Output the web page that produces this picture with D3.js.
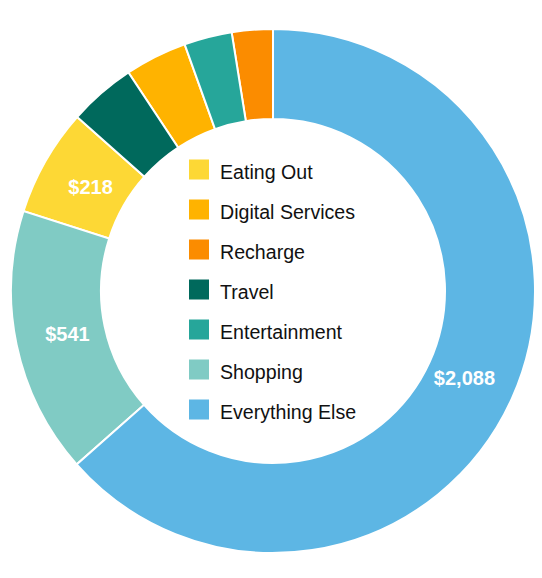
<!DOCTYPE html>
<html>
<head>
<meta charset="utf-8">
<script src="https://cdn.jsdelivr.net/npm/d3@7"></script>
<style>
  html, body { margin: 0; padding: 0; background: #fff; }
  svg text { font-family: "Liberation Sans", Arial, Helvetica, sans-serif; }
</style>
</head>
<body>
<svg id="chart" width="542" height="578"></svg>
<script>
// Data (legend order)
const categories = ["Eating Out", "Digital Services", "Recharge", "Travel", "Entertainment", "Shopping", "Everything Else"];
const values     = [218, 126, 83, 136, 97, 541, 2088];
const colors     = ["#FDD835", "#FFB300", "#FB8C00", "#00695C", "#26A69A", "#80CBC4", "#5DB6E4"];
const labeled    = ["Eating Out", "Shopping", "Everything Else"];

const data = categories.map((c, i) => ({ name: c, value: values[i] }));

const svg = d3.select("#chart");
const cx = 273, cy = 291;
const outerR = 262, innerR = 172, labelR = 210;

const color = d3.scaleOrdinal().domain(categories).range(colors);

const pie = d3.pie().value(d => d.value).sort((a, b) => b.value - a.value);
const arc = d3.arc().innerRadius(innerR).outerRadius(outerR);
const labelArc = d3.arc().innerRadius(labelR).outerRadius(labelR);

const g = svg.append("g").attr("transform", `translate(${cx},${cy})`);
const arcs = pie(data);

g.selectAll("path.slice")
  .data(arcs)
  .join("path")
  .attr("class", "slice")
  .attr("d", arc)
  .attr("fill", d => color(d.data.name))
  .attr("stroke", "#fff")
  .attr("stroke-width", 2);

const fmt = d3.format(",");
g.selectAll("text.val")
  .data(arcs.filter(d => labeled.includes(d.data.name)))
  .join("text")
  .attr("class", "val")
  .attr("transform", d => `translate(${labelArc.centroid(d)})`)
  .attr("text-anchor", "middle")
  .attr("dy", "0.36em")
  .attr("fill", "#fff")
  .attr("font-size", 20)
  .attr("font-weight", "bold")
  .text(d => "$" + fmt(d.data.value));

// Legend
const legendTop = cy - 131.5;
const y = d3.scalePoint().domain(categories).range([legendTop, legendTop + 240]);
const legend = svg.append("g");
const items = legend.selectAll("g.item")
  .data(categories)
  .join("g")
  .attr("class", "item")
  .attr("transform", d => `translate(189,${y(d)})`);
items.append("rect")
  .attr("width", 20).attr("height", 20)
  .attr("fill", d => color(d));
items.append("text")
  .attr("x", 31)
  .attr("y", 19.5)
  .attr("font-size", 19.6)
  .attr("fill", "#111")
  .text(d => d);
</script>
</body>
</html>
